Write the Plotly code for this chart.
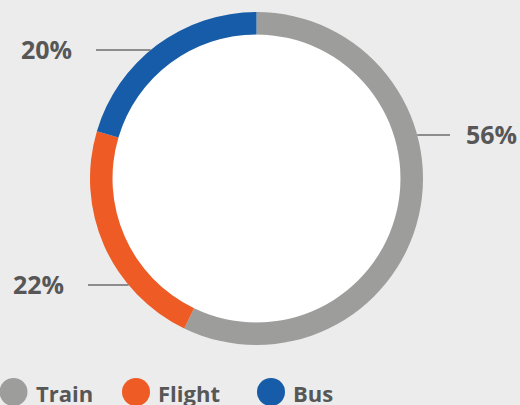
import plotly.graph_objects as go
import math

# ---- data ----
categories = ["Train", "Flight", "Bus"]
values = [56, 22, 20]
colors = ["#9d9d9c", "#ee5b24", "#175ca8"]

W, H = 520, 405
BG = "#ececec"
TXT = "#575757"
FONT = "Open Sans"

# layout geometry (pixels)
cx, cy, R = 256.5, 178.5, 166.5
hole = 0.865

def px(x):
    return x / W

def py(y):
    return 1 - y / H

fig = go.Figure()
fig.add_trace(go.Pie(
    labels=categories, values=values,
    marker=dict(colors=colors, line=dict(width=0)),
    hole=hole, sort=False, direction="clockwise", rotation=0,
    textinfo="none", hoverinfo="label+value", showlegend=False,
    domain=dict(x=[px(cx - R), px(cx + R)], y=[py(cy + R), py(cy - R)]),
))

shapes = []
annotations = []

# white center disc
rin = R * hole
shapes.append(dict(type="circle", xref="paper", yref="paper", layer="below",
                   x0=px(cx - rin), x1=px(cx + rin), y0=py(cy + rin), y1=py(cy - rin),
                   fillcolor="white", line=dict(width=0)))

# value labels with leader lines
label_layout = {
    "Train": dict(y=135, side=1, tx=519, lx=450),
    "Flight": dict(y=285, side=-1, tx=11, lx=88),
    "Bus": dict(y=50, side=-1, tx=19, lx=96),
}
for cat, v in zip(categories, values):
    L = label_layout[cat]
    dy = L["y"] - cy
    edge_x = cx + L["side"] * math.sqrt(max(R * R - dy * dy, 0))
    shapes.append(dict(type="line", xref="paper", yref="paper",
                       x0=px(L["lx"]), x1=px(edge_x), y0=py(L["y"]), y1=py(L["y"]),
                       line=dict(color="#6e6e6e", width=1.3)))
    annotations.append(dict(text=f"<b>{v}%</b>", xref="paper", yref="paper",
                            x=px(L["tx"]), y=py(L["y"] - 1),
                            xanchor="right" if L["side"] == 1 else "left", yanchor="middle",
                            showarrow=False, font=dict(family=FONT, size=25, color=TXT)))

# custom legend
leg_x = [13.5, 136, 271]
leg_y = 392
rl = 14
for cat, col, lx in zip(categories, colors, leg_x):
    shapes.append(dict(type="circle", xref="paper", yref="paper",
                       x0=px(lx - rl), x1=px(lx + rl), y0=py(leg_y + rl), y1=py(leg_y - rl),
                       fillcolor=col, line=dict(width=0)))
    annotations.append(dict(text=f"<b>{cat}</b>", xref="paper", yref="paper",
                            x=px(lx + rl + 6), y=py(leg_y + 0.5), xanchor="left", yanchor="middle",
                            showarrow=False, font=dict(family=FONT, size=22, color=TXT)))

fig.update_layout(
    width=W, height=H, margin=dict(l=0, r=0, t=0, b=0),
    paper_bgcolor=BG, plot_bgcolor=BG,
    shapes=shapes, annotations=annotations,
)

fig.write_html("out.html")
